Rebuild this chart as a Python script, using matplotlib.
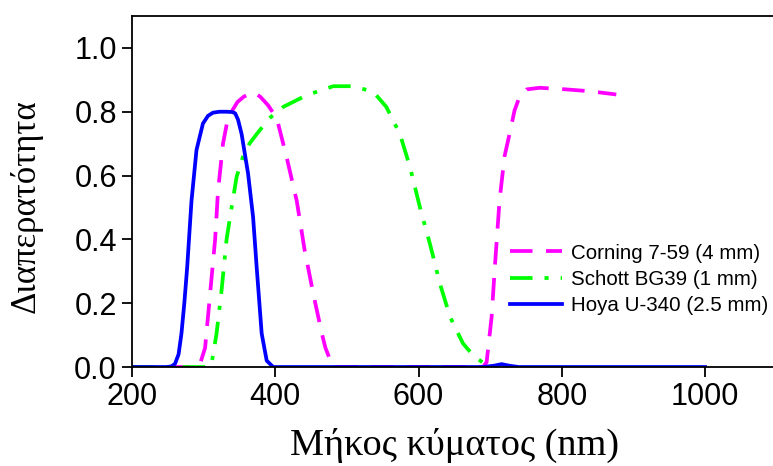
import matplotlib
matplotlib.use("Agg")
import matplotlib.pyplot as plt

# Hoya U-340 (2.5 mm)
hoya_nm = [200, 248, 255, 260, 265, 269, 273, 277, 283, 290, 299, 306, 313, 322, 332, 340, 344,
           348, 353, 362, 369, 374, 381, 388, 397, 500, 690, 705, 716, 727, 740, 1000]
hoya_t = [0, 0, 0.002, 0.01, 0.04, 0.105, 0.2, 0.313, 0.52, 0.68, 0.763, 0.787, 0.797, 0.8, 0.8, 0.799, 0.795,
          0.775, 0.73, 0.606, 0.47, 0.313, 0.105, 0.02, 0, 0, 0, 0.004, 0.009, 0.004, 0, 0]

# Corning 7-59 (4 mm)
corning_nm = [200, 290, 295, 302, 309, 316, 320, 327, 333, 339, 347, 356, 369, 379, 390, 402, 416, 430,
              441, 453, 465, 470, 474, 478, 480, 690, 695, 702, 706.5, 713, 720, 727, 734, 741, 751,
              769, 806, 840, 876]
corning_t = [0, 0, 0.01, 0.06, 0.23, 0.4, 0.55, 0.7, 0.77, 0.8, 0.83, 0.847, 0.862, 0.847, 0.82, 0.78,
             0.656, 0.52, 0.366, 0.23, 0.105, 0.06, 0.037, 0.01, 0, 0, 0.015, 0.157, 0.313, 0.52,
             0.66, 0.73, 0.804, 0.847, 0.87, 0.875, 0.87, 0.864, 0.854]

# Schott BG39 (1 mm)
schott_nm = [200, 308, 311, 318, 325, 332, 339, 346, 355, 364, 374, 392, 411, 444, 481, 509, 537, 555,
             574, 588, 602, 616, 630, 644, 662, 676, 692, 700]
schott_t = [0, 0, 0.01, 0.105, 0.24, 0.4, 0.5, 0.596, 0.66, 0.7, 0.73, 0.78, 0.815, 0.852, 0.88, 0.88,
            0.862, 0.815, 0.73, 0.627, 0.5, 0.385, 0.26, 0.157, 0.074, 0.037, 0.01, 0]

x_ticks = [200, 400, 600, 800, 1000]
y_ticks = [0.0, 0.2, 0.4, 0.6, 0.8, 1.0]

plt.rcParams["font.family"] = ["Liberation Sans", "DejaVu Sans"]

fig = plt.figure(figsize=(7.73, 4.66), dpi=100)
ax = fig.add_axes([0.1708, 0.2124, 0.834, 0.7533])

ax.plot(corning_nm, corning_t, color="#ff00ff", lw=2.7, linestyle=(0, (6, 3.6)),
        label="Corning 7-59 (4 mm)")
ax.plot(schott_nm, schott_t, color="#00ff00", lw=2.7, linestyle=(0, (6, 3.2, 1.1, 3.2)),
        label="Schott BG39 (1 mm)")
ax.plot(hoya_nm, hoya_t, color="#0000ff", lw=2.7, label="Hoya U-340 (2.5 mm)")

ax.set_xlim(200, 1100)
ax.set_ylim(0, 1.1)
ax.set_xticks(x_ticks)
ax.set_yticks(y_ticks)
ax.set_yticklabels(["%.1f" % v for v in y_ticks])
ax.tick_params(labelsize=22, length=7, width=1.3, pad=4, direction="out")
for s in ax.spines.values():
    s.set_linewidth(1.3)

serif = ["Liberation Serif", "DejaVu Serif"]
ax.set_xlabel("Μήκος κύματος (nm)", family=serif, fontsize=27.5, labelpad=11)
ax.set_ylabel("Διαπερατότητα", family=serif, fontsize=25)
ax.yaxis.set_label_coords(-0.139, 0.459)

ax.legend(loc="upper left", bbox_to_anchor=(0.574, 0.375), frameon=False, fontsize=14.8,
          handlelength=2.5, handletextpad=0.45, labelspacing=0.35, borderaxespad=0)

fig.savefig("out.png", dpi=100)
